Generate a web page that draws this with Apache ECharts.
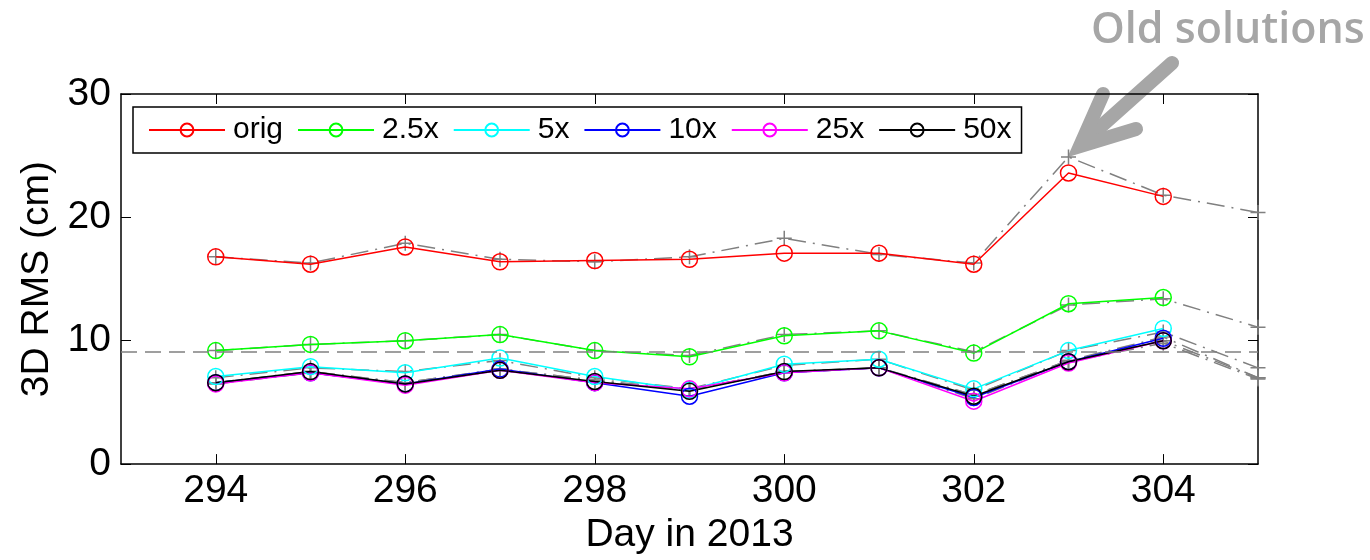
<!DOCTYPE html>
<html>
<head>
<meta charset="utf-8">
<script src="https://cdn.jsdelivr.net/npm/echarts@6/dist/echarts.min.js"></script>
<style>
  body { margin: 0; background: #fff; }
  #main { width: 1370px; height: 560px; }
</style>
</head>
<body>
<div id="main"></div>
<script>
// days of 2013
var days = [294, 295, 296, 297, 298, 299, 300, 301, 302, 303, 304]
var oldDays = [294, 295, 296, 297, 298, 299, 300, 301, 302, 303, 304, 305]
var evenTicks = [294, 296, 298, 300, 302, 304]

// 3D RMS (cm), new solutions
var orig = [16.8, 16.2, 17.6, 16.4, 16.5, 16.6, 17.1, 17.1, 16.2, 23.6, 21.7]
var x2_5 = [9.2, 9.7, 10.0, 10.5, 9.2, 8.7, 10.4, 10.8, 9.0, 13.0, 13.5]
var x5 = [7.1, 7.9, 7.4, 8.6, 7.1, 6.0, 8.1, 8.5, 6.1, 9.2, 11.0]
var x10 = [6.6, 7.4, 6.5, 7.7, 6.6, 5.5, 7.4, 7.8, 5.4, 8.3, 10.2]
var x25 = [6.5, 7.4, 6.4, 7.6, 6.6, 6.1, 7.4, 7.8, 5.1, 8.2, 10.0]
var x50 = [6.6, 7.5, 6.5, 7.6, 6.7, 5.9, 7.5, 7.8, 5.5, 8.3, 10.0]

// old solutions (gray, dash-dot)
var oldOrig = [16.8, 16.3, 17.9, 16.6, 16.4, 16.8, 18.3, 17.0, 16.3, 24.9, 21.8, 20.4]
var old2_5 = [9.2, 9.7, 10.0, 10.5, 9.2, 8.8, 10.5, 10.8, 9.1, 12.9, 13.4, 11.1]
var old5 = [7.0, 7.8, 7.5, 8.4, 7.0, 6.1, 8.0, 8.5, 6.0, 9.2, 10.7, 7.8]
var old10 = [6.6, 7.5, 6.6, 7.7, 6.8, 6.0, 7.5, 7.8, 5.6, 8.4, 10.3, 7.0]
var old25 = [6.5, 7.4, 6.5, 7.6, 6.7, 6.1, 7.4, 7.8, 5.3, 8.3, 9.8, 6.9]
var old50 = [6.6, 7.5, 6.6, 7.7, 6.8, 6.0, 7.5, 7.8, 5.6, 8.4, 10.0, 7.0]

var refLevel = 9.1

var names = ['orig', '2.5x', '5x', '10x', '25x', '50x']
var colors = ['#ff0000', '#00ff00', '#00ffff', '#0000ff', '#ff00ff', '#000000']
var newData = [orig, x2_5, x5, x10, x25, x50]
var oldData = [oldOrig, old2_5, old5, old10, old25, old50]

var font = '"Liberation Sans", Arial, Helvetica, sans-serif'
var gray = '#808080'
var annot = '#a6a6a6'

function pairs (xs, ys) {
  return xs.map(function (x, i) { return [x, ys[i]] })
}

var series = []
oldData.forEach(function (vals, i) {
  var s = {
    name: names[i] + ' old',
    type: 'line',
    data: pairs(oldDays, vals),
    symbol: 'path://M0,6L12,6M6,0L6,12',
    symbolSize: 15,
    lineStyle: { color: gray, width: 1.5, type: [18, 7, 2, 7] },
    itemStyle: { color: 'none', borderColor: gray, borderWidth: 1.5 },
    emphasis: { disabled: true },
    z: 2
  }
  if (i === 0) {
    // horizontal reference line
    s.markLine = {
      silent: true,
      symbol: 'none',
      label: { show: false },
      lineStyle: { color: gray, width: 1.5, type: [16, 8] },
      data: [{ yAxis: refLevel }]
    }
  }
  series.push(s)
})
newData.forEach(function (vals, i) {
  series.push({
    name: names[i],
    type: 'line',
    data: pairs(days, vals),
    symbol: 'circle',
    symbolSize: 16,
    lineStyle: { color: colors[i], width: 1.5 },
    itemStyle: { color: 'transparent', borderColor: colors[i], borderWidth: 1.5 },
    emphasis: { disabled: true },
    z: 3
  })
})

var chart = echarts.init(document.getElementById('main'))
chart.setOption({
  animation: false,
  backgroundColor: '#fff',
  grid: { left: 121, right: 112, top: 94, bottom: 93 },
  legend: {
    data: names,
    left: 133,
    top: 107,
    orient: 'horizontal',
    itemWidth: 76,
    itemHeight: 16,
    itemGap: 14,
    padding: [8, 10, 8, 15],
    borderColor: '#000',
    borderWidth: 1.5,
    borderRadius: 0,
    backgroundColor: '#fff',
    textStyle: { fontFamily: font, fontSize: 30, color: '#000', padding: [0, 0, 0, 3], lineHeight: 30 }
  },
  xAxis: [{
    type: 'value',
    min: 293,
    max: 305,
    name: 'Day in 2013',
    nameLocation: 'middle',
    nameGap: 50,
    nameTextStyle: { fontFamily: font, fontSize: 39, color: '#000' },
    axisLine: { show: true, onZero: false, lineStyle: { color: '#000', width: 1.5 } },
    axisTick: { inside: true, length: 10, customValues: evenTicks, lineStyle: { color: '#000' } },
    axisLabel: { customValues: evenTicks, fontFamily: font, fontSize: 39, color: '#000', margin: 8 },
    splitLine: { show: false }
  }, {
    type: 'value',
    position: 'top',
    min: 293,
    max: 305,
    axisLine: { show: true, onZero: false, lineStyle: { color: '#000', width: 1.5 } },
    axisTick: { inside: true, length: 10, customValues: evenTicks, lineStyle: { color: '#000' } },
    axisLabel: { show: false },
    splitLine: { show: false }
  }],
  yAxis: [{
    type: 'value',
    min: 0,
    max: 30,
    interval: 10,
    name: '3D RMS (cm)',
    nameLocation: 'middle',
    nameGap: 61,
    nameTextStyle: { fontFamily: font, fontSize: 39, color: '#000' },
    axisLine: { show: true, lineStyle: { color: '#000', width: 1.5 } },
    axisTick: { show: true, inside: true, length: 10, lineStyle: { color: '#000' } },
    axisLabel: { fontFamily: font, fontSize: 39, color: '#000', margin: 10 },
    splitLine: { show: false }
  }, {
    type: 'value',
    position: 'right',
    min: 0,
    max: 30,
    interval: 10,
    axisLine: { show: true, lineStyle: { color: '#000', width: 1.5 } },
    axisTick: { show: true, inside: true, length: 10, lineStyle: { color: '#000' } },
    axisLabel: { show: false },
    splitLine: { show: false }
  }],
  series: series,
  graphic: [{
    type: 'text',
    style: {
      text: 'Old solutions',
      x: 1091,
      y: 31,
      verticalAlign: 'middle',
      fill: annot,
      font: '600 43px "Open Sans", "DejaVu Sans", sans-serif'
    }
  }, {
    type: 'polyline',
    shape: { points: [[1172, 63], [1088, 138]] },
    style: { stroke: annot, lineWidth: 14, lineCap: 'round' }
  }, {
    type: 'polyline',
    shape: { points: [[1103, 94], [1080, 146], [1136, 129]] },
    style: { stroke: annot, lineWidth: 14, lineCap: 'round', lineJoin: 'miter', fill: null }
  }]
})
</script>
</body>
</html>
